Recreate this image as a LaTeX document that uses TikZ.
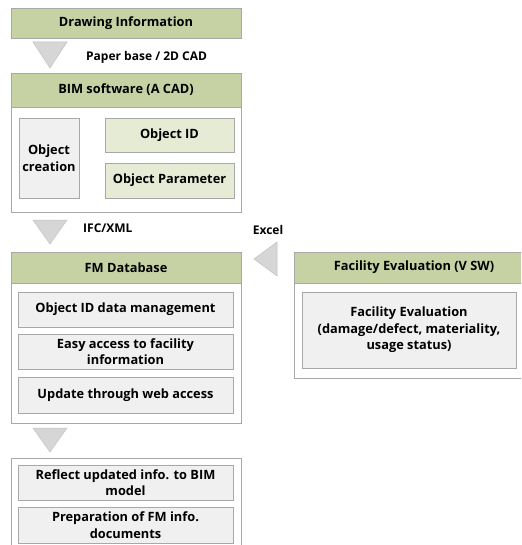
\documentclass[tikz,border=0pt]{standalone}
\usepackage{fontspec}
\setmainfont{Open Sans}
\definecolor{olive}{HTML}{C6D1A4}
\definecolor{lightolive}{HTML}{E5EBD4}
\definecolor{boxgray}{HTML}{F0F0F0}
\definecolor{linegray}{HTML}{A8A8A8}
\definecolor{trigray}{HTML}{D6D6D6}
\begin{document}
\begin{tikzpicture}[
    x=1pt, y=-1pt,
    every node/.style={font=\fontsize{12.8}{16.5}\selectfont\bfseries, inner sep=0pt, align=center},
    head/.style={draw=linegray, fill=olive, minimum height=31pt},
    frame/.style={draw=linegray, fill=white, line width=0.8pt},
    item/.style={draw=linegray, fill=boxgray, line width=0.8pt},
    iditem/.style={draw=linegray, fill=lightolive, line width=0.8pt},
    tri/.style={draw=linegray!70, fill=trigray, line width=0.5pt},
    note/.style={font=\fontsize{12}{14}\selectfont\bfseries, anchor=west}
  ]
    \clip (0,0) rectangle (521,545);
    \fill[white] (0,0) rectangle (521,545);

    % source drawings
    \node[head, minimum width=230pt, minimum height=30pt] (drawinfo) at (126,23) {Drawing Information};
    \coordinate (arrA) at (50,42);
    \draw[tri] (arrA) -- ++(17,0) -- ++(-17,26) -- ++(-17,-26) -- cycle;
    \node[note] (paper) at (86,57) {Paper base / 2D CAD};

    % BIM software
    \node[frame, minimum width=230pt, minimum height=139pt] (bim) at (126,142.5) {};
    \node[head, minimum width=230pt, minimum height=34pt] (bimhead) at (126,90) {BIM software (A CAD)};
    \node[item, minimum width=60pt, minimum height=80pt] (objcreate) at (49,158) {Object\\creation};
    \node[iditem, minimum width=129pt, minimum height=34pt] (objid) at (169.5,135) {Object ID};
    \node[iditem, minimum width=129pt, minimum height=35pt] (objparam) at (169.5,180.5) {Object Parameter};

    \coordinate (arrB) at (50,220);
    \draw[tri] (arrB) -- ++(17,0) -- ++(-17,24) -- ++(-17,-24) -- cycle;
    \node[note] (ifc) at (83,228) {IFC/XML};

    % FM database
    \node[frame, minimum width=230pt, minimum height=171pt] (fm) at (126,337.5) {};
    \node[head, minimum width=230pt] (fmhead) at (126,267.5) {FM Database};
    \node[item, minimum width=215pt, minimum height=35pt] (fmid) at (125.5,309.5) {Object ID data management};
    \node[item, minimum width=215pt, minimum height=35pt] (fmaccess) at (125.5,351.5) {Easy access to facility\\information};
    \node[item, minimum width=215pt, minimum height=36pt] (fmweb) at (125.5,395) {Update through web access};

    % facility evaluation
    \node[note, anchor=center] (excel) at (268,230) {Excel};
    \coordinate (arrC) at (254,259);
    \draw[tri] (arrC) -- ++(23,-17) -- ++(0,34) -- cycle;
    \node[frame, minimum width=240pt, minimum height=126pt] (fe) at (414,315) {};
    \node[head, minimum width=240pt] (fehead) at (414,267.5) {Facility Evaluation (V SW)};
    \node[item, minimum width=214pt, minimum height=76pt] (feitem) at (409,330) {Facility Evaluation\\(damage/defect, materiality,\\usage status)};

    \coordinate (arrD) at (50,428);
    \draw[tri] (arrD) -- ++(17,0) -- ++(-17,24) -- ++(-17,-24) -- cycle;

    % outputs
    \node[frame, minimum width=230pt, minimum height=100pt] (out) at (126,508) {};
    \node[item, minimum width=215pt, minimum height=35pt] (outbim) at (125.5,482.5) {Reflect updated info. to BIM\\model};
    \node[item, minimum width=215pt, minimum height=36pt] (outdoc) at (125.5,525) {Preparation of FM info.\\documents};
  \end{tikzpicture}
\end{document}
